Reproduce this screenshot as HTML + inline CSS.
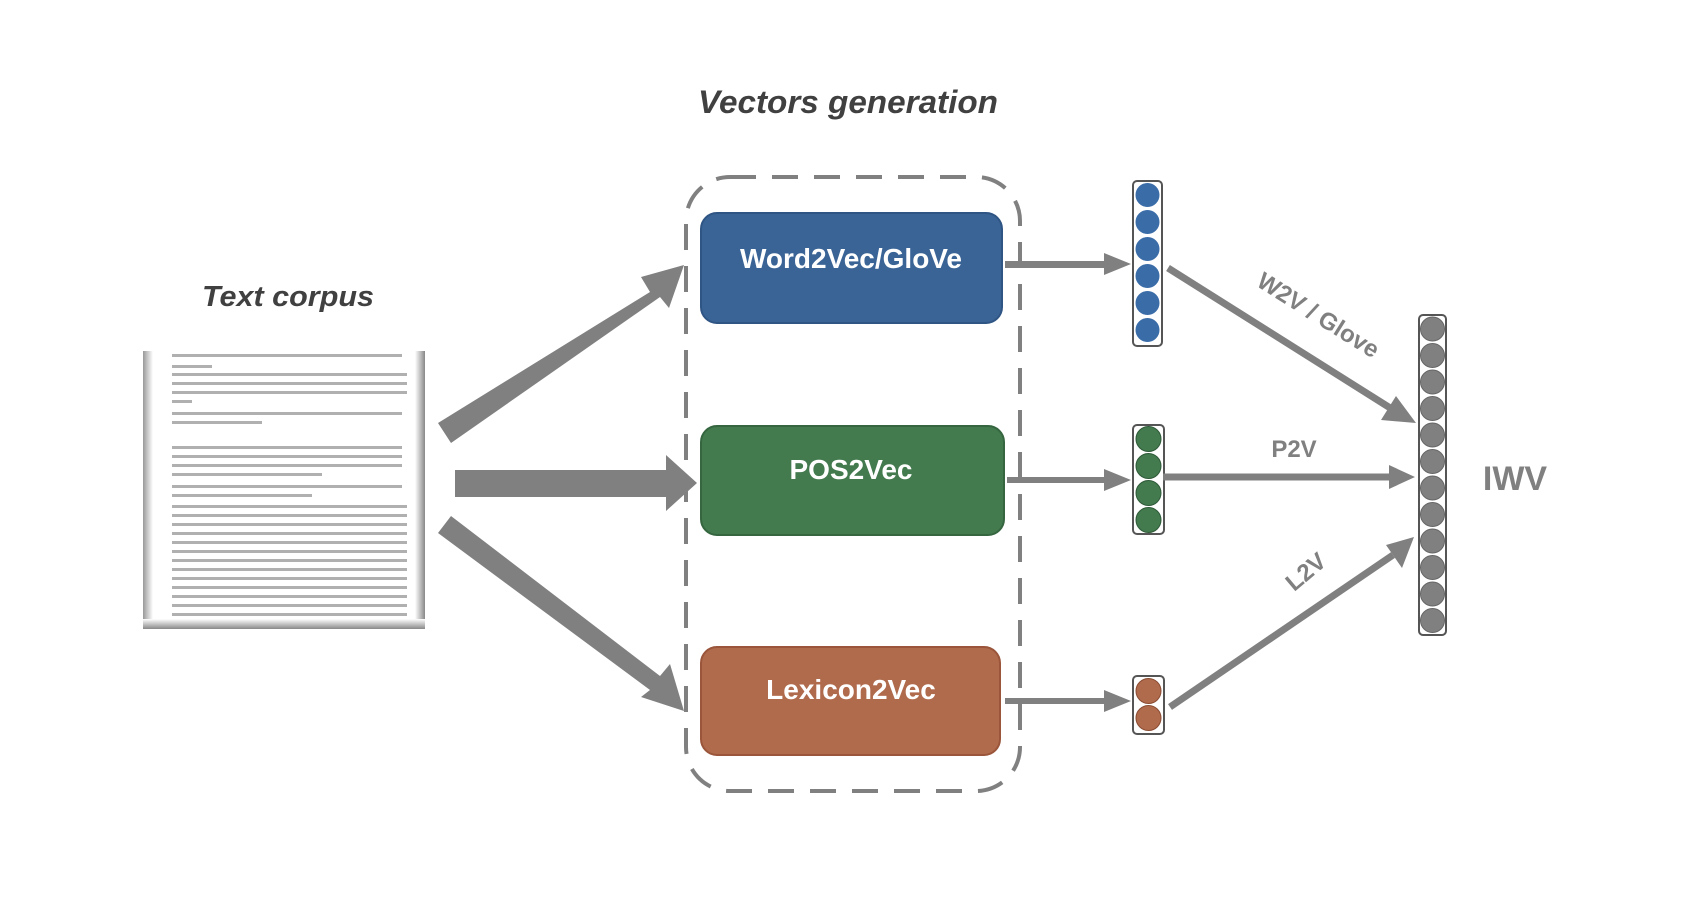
<!DOCTYPE html>
<html><head><meta charset="utf-8"><style>
html,body{margin:0;padding:0;background:#fff;}
svg{display:block;}
text{font-family:"Liberation Sans",sans-serif;}
</style></head><body>
<svg width="1690" height="914" viewBox="0 0 1690 914" xmlns="http://www.w3.org/2000/svg">
<defs>
<linearGradient id="bevL" x1="0" x2="1"><stop offset="0" stop-color="#999"/><stop offset="1" stop-color="#fff"/></linearGradient>
<linearGradient id="bevR" x1="1" x2="0"><stop offset="0" stop-color="#888"/><stop offset="1" stop-color="#fff"/></linearGradient>
<linearGradient id="bevB" y1="1" y2="0" x1="0" x2="0"><stop offset="0" stop-color="#888"/><stop offset="1" stop-color="#fff"/></linearGradient>
</defs>

<text x="848" y="113" font-size="32" font-weight="bold" font-style="italic" fill="#404040" text-anchor="middle" textLength="300" lengthAdjust="spacingAndGlyphs">Vectors generation</text>
<text x="288" y="306" font-size="29" font-weight="bold" font-style="italic" fill="#404040" text-anchor="middle" textLength="172" lengthAdjust="spacingAndGlyphs">Text corpus</text>

<rect x="143" y="351" width="282" height="278" fill="#fff"/>
<rect x="143" y="351" width="10" height="278" fill="url(#bevL)"/>
<rect x="415" y="351" width="10" height="278" fill="url(#bevR)"/>
<rect x="143" y="619" width="282" height="10" fill="url(#bevB)"/>
<g fill="#b0b0b0">
<rect x="172" y="354" width="230" height="3"/>
<rect x="172" y="365" width="40" height="3"/>
<rect x="172" y="373" width="235" height="3"/>
<rect x="172" y="382" width="235" height="3"/>
<rect x="172" y="391" width="235" height="3"/>
<rect x="172" y="400" width="20" height="3"/>
<rect x="172" y="412" width="230" height="3"/>
<rect x="172" y="421" width="90" height="3"/>
<rect x="172" y="446" width="230" height="3"/>
<rect x="172" y="455" width="230" height="3"/>
<rect x="172" y="464" width="230" height="3"/>
<rect x="172" y="473" width="150" height="3"/>
<rect x="172" y="485" width="230" height="3"/>
<rect x="172" y="494" width="140" height="3"/>
<rect x="172" y="505" width="235" height="3"/>
<rect x="172" y="514" width="235" height="3"/>
<rect x="172" y="523" width="235" height="3"/>
<rect x="172" y="532" width="235" height="3"/>
<rect x="172" y="541" width="235" height="3"/>
<rect x="172" y="550" width="235" height="3"/>
<rect x="172" y="559" width="235" height="3"/>
<rect x="172" y="568" width="235" height="3"/>
<rect x="172" y="577" width="235" height="3"/>
<rect x="172" y="586" width="235" height="3"/>
<rect x="172" y="595" width="235" height="3"/>
<rect x="172" y="604" width="235" height="3"/>
<rect x="172" y="613" width="235" height="3"/>
</g>

<g fill="#808080">
<polygon points="438,423 650,292 641,277 684,265 669,308 660,297 451,443"/>
<polygon points="455,470 666,470 666,455 697,483 666,511 666,497 455,497"/>
<polygon points="438,533 451,516 660,676 670,664 684,711 641,697 650,690"/>
</g>

<rect x="686" y="177" width="334" height="614" rx="44" fill="none" stroke="#808080" stroke-width="4" stroke-dasharray="26,16"/>

<rect x="701" y="213" width="301" height="110" rx="16" fill="#3a6496" stroke="#2f5584" stroke-width="2"/>
<text x="851" y="268" font-size="28" font-weight="bold" fill="#fff" text-anchor="middle">Word2Vec/GloVe</text>
<rect x="701" y="426" width="303" height="109" rx="16" fill="#437a4e" stroke="#356640" stroke-width="2"/>
<text x="851" y="479" font-size="28" font-weight="bold" fill="#fff" text-anchor="middle">POS2Vec</text>
<rect x="701" y="647" width="299" height="108" rx="16" fill="#b06a4c" stroke="#9a553a" stroke-width="2"/>
<text x="851" y="699" font-size="28" font-weight="bold" fill="#fff" text-anchor="middle">Lexicon2Vec</text>

<g fill="#808080">
<rect x="1005" y="261" width="100" height="7"/><polygon points="1104,253 1131,264 1104,275"/>
<rect x="1007" y="477" width="98" height="6"/><polygon points="1104,469 1131,480 1104,491"/>
<rect x="1005" y="698" width="100" height="6"/><polygon points="1104,690 1131,701 1104,712"/>
</g>

<rect x="1133" y="181" width="29" height="165" rx="4" fill="#fff" stroke="#555" stroke-width="2"/>
<g fill="#3a6ca8">
<circle cx="1147.5" cy="195" r="12"/><circle cx="1147.5" cy="222" r="12"/><circle cx="1147.5" cy="249" r="12"/>
<circle cx="1147.5" cy="276" r="12"/><circle cx="1147.5" cy="303" r="12"/><circle cx="1147.5" cy="330" r="12"/>
</g>
<rect x="1133" y="425" width="31" height="109" rx="4" fill="#fff" stroke="#555" stroke-width="2"/>
<g fill="#437a4e" stroke="#2e5a38" stroke-width="1">
<circle cx="1148.5" cy="439" r="12.5"/><circle cx="1148.5" cy="466" r="12.5"/><circle cx="1148.5" cy="493" r="12.5"/><circle cx="1148.5" cy="520" r="12.5"/>
</g>
<rect x="1133" y="676" width="31" height="58" rx="4" fill="#fff" stroke="#555" stroke-width="2"/>
<g fill="#b06a4c" stroke="#8a4c33" stroke-width="1">
<circle cx="1148.5" cy="691" r="12.5"/><circle cx="1148.5" cy="718" r="12.5"/>
</g>

<rect x="1419" y="315" width="27" height="320" rx="4" fill="#fff" stroke="#555" stroke-width="2"/>
<g fill="#808080" stroke="#666" stroke-width="1">
<circle cx="1432.5" cy="329" r="12"/><circle cx="1432.5" cy="355.5" r="12"/><circle cx="1432.5" cy="382" r="12"/>
<circle cx="1432.5" cy="408.5" r="12"/><circle cx="1432.5" cy="435" r="12"/><circle cx="1432.5" cy="461.5" r="12"/>
<circle cx="1432.5" cy="488" r="12"/><circle cx="1432.5" cy="514.5" r="12"/><circle cx="1432.5" cy="541" r="12"/>
<circle cx="1432.5" cy="567.5" r="12"/><circle cx="1432.5" cy="594" r="12"/><circle cx="1432.5" cy="620.5" r="12"/>
</g>
<text x="1515" y="490" font-size="34" font-weight="bold" fill="#808080" text-anchor="middle">IWV</text>

<g stroke="#808080" stroke-width="7" fill="none">
<line x1="1168" y1="268" x2="1395" y2="411"/>
<line x1="1163" y1="477" x2="1390" y2="477"/>
<line x1="1170" y1="707" x2="1393" y2="555"/>
</g>
<g fill="#808080">
<polygon points="1416,423 1381,420 1396,396"/>
<polygon points="1415,477 1389,465 1389,489"/>
<polygon points="1414,537 1402,568 1386,545"/>
</g>
<text transform="translate(1314,322) rotate(32)" font-size="24" font-weight="bold" fill="#808080" text-anchor="middle">W2V / Glove</text>
<text x="1294" y="457" font-size="24" font-weight="bold" fill="#808080" text-anchor="middle">P2V</text>
<text transform="translate(1311,578) rotate(-40)" font-size="24" font-weight="bold" fill="#808080" text-anchor="middle">L2V</text>
</svg>
</body></html>
